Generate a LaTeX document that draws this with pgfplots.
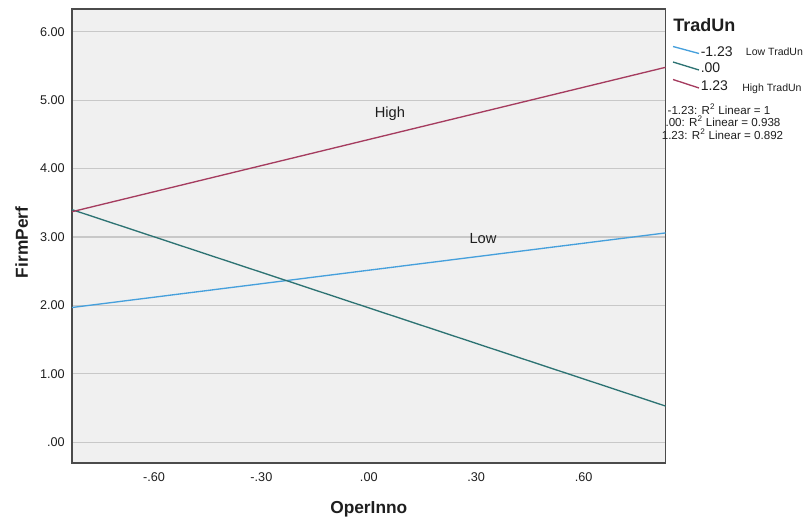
\documentclass[border=0pt]{standalone}
\usepackage{pgfplots}
\pgfplotsset{compat=1.18}
\usepackage{fontspec}
\setmainfont{Liberation Sans}
\definecolor{lblue}{RGB}{70,160,220}
\definecolor{tealc}{RGB}{45,115,115}
\definecolor{maroonc}{RGB}{165,60,95}
\definecolor{bgc}{RGB}{240,240,240}
\definecolor{gridc}{RGB}{200,200,200}
\definecolor{framec}{RGB}{75,75,75}
\definecolor{txtc}{RGB}{30,30,30}
\begin{document}
\begin{tikzpicture}
\begin{axis}[
  scale only axis,
  width=445.2pt, height=340.5pt,
  xmin=-0.829, xmax=0.829,
  ymin=-0.302, ymax=6.332,
  axis background/.style={fill=bgc},
  axis line style={framec, line width=1pt},
  xtick={-0.6,-0.3,0,0.3,0.6},
  xticklabels={-.60,-.30,.00,.30,.60},
  ytick={0,1,2,3,4,5,6},
  yticklabels={.00,1.00,2.00,3.00,4.00,5.00,6.00},
  major tick length=0pt,
  ymajorgrids,
  grid style={gridc, line width=0.8pt},
  tick label style={font=\fontsize{9.5}{11}\selectfont, text=txtc, inner sep=0pt},
  xticklabel style={anchor=center, yshift=-10.5pt},
  yticklabel style={anchor=east, xshift=-5.25pt},
  xlabel={OperInno}, ylabel={FirmPerf},
  label style={font=\fontsize{13}{15}\selectfont\bfseries, text=txtc},
  xlabel style={at={(axis description cs:0.5,-0.1123)}, anchor=base},
  ylabel style={at={(axis description cs:-0.0846,0.486)}, anchor=center, rotate=0},
  clip=true,
]
\addplot[lblue, line width=1pt] coordinates {(-0.829,1.97) (0.829,3.06)};
\addplot[tealc, line width=1pt] coordinates {(-0.829,3.40) (0.829,0.53)};
\addplot[maroonc, line width=1pt] coordinates {(-0.829,3.37) (0.829,5.48)};
\node[font=\fontsize{11}{13}\selectfont, text=txtc] at (axis cs:0.059,4.80) {High};
\node[font=\fontsize{11}{13}\selectfont, text=txtc] at (axis cs:0.319,2.98) {Low};
\coordinate (O) at (rel axis cs:0,1);
\end{axis}
\begin{scope}[shift={(O)}, x=0.75pt, y=-0.75pt]
\begin{scope}[shift={(-72,-9)}]
  \coordinate (TL) at (0,0);
  \coordinate (BR) at (803,519);
  \node[anchor=base west, inner sep=0pt, font=\fontsize{13.5}{15}\selectfont\bfseries, text=txtc] at (673,32) {TradUn};
  \draw[lblue, line width=1pt] (673,46.5) -- (699,53.5);
  \draw[tealc, line width=1pt] (673,62) -- (699,70);
  \draw[maroonc, line width=1pt] (673,79.5) -- (699,88);
  \node[anchor=base west, inner sep=0pt, font=\fontsize{10.5}{12}\selectfont, text=txtc] at (700.5,56.5) {-1.23};
  \node[anchor=base west, inner sep=0pt, font=\fontsize{10.5}{12}\selectfont, text=txtc] at (700.5,72.7) {.00};
  \node[anchor=base west, inner sep=0pt, font=\fontsize{10.5}{12}\selectfont, text=txtc] at (700.5,90.7) {1.23};
  \node[anchor=base west, inner sep=0pt, font=\fontsize{7.9}{9}\selectfont, text=txtc] at (745.7,56) {Low TradUn};
  \node[anchor=base west, inner sep=0pt, font=\fontsize{7.9}{9}\selectfont, text=txtc] at (742,92) {High TradUn};
  \node[anchor=center, inner sep=0pt, font=\fontsize{8.7}{10}\selectfont, text=txtc] at (719,109) {-1.23: R\textsuperscript{2} Linear = 1};
  \node[anchor=center, inner sep=0pt, font=\fontsize{8.7}{10}\selectfont, text=txtc] at (723,121.5) {.00: R\textsuperscript{2} Linear = 0.938};
  \node[anchor=center, inner sep=0pt, font=\fontsize{8.7}{10}\selectfont, text=txtc] at (722.5,134) {1.23: R\textsuperscript{2} Linear = 0.892};
\end{scope}
\end{scope}
\pgfresetboundingbox
\path (TL) rectangle (BR);
\end{tikzpicture}
\end{document}
